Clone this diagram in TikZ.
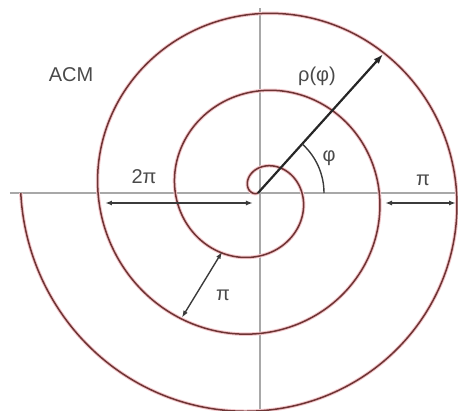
\documentclass[tikz,border=0pt]{standalone}
\usepackage{fontspec}
\setmainfont{Liberation Sans}
\usetikzlibrary{arrows.meta}
\definecolor{spiralred}{HTML}{6E3434}
\definecolor{halo}{HTML}{F4C8CC}
\definecolor{axisgray}{HTML}{A8A8A8}
\definecolor{inkgray}{HTML}{4A4A4A}

\begin{document}
\begin{tikzpicture}[x=1pt,y=1pt,
  axis/.style={axisgray, line width=1.2pt},
  spiral/.style={spiralred, line width=1.5pt},
  glow/.style={halo, line width=3.5pt},
  dim/.style={inkgray!80!black, line width=1.4pt, {Latex[length=7pt,width=5pt]}-{Latex[length=7pt,width=5pt]}},
  radius/.style={black!85, line width=2.2pt, -{Latex[length=10pt,width=7pt]}},
  lbl/.style={inkgray, inner sep=0pt, font=\fontsize{20}{20}\selectfont}]
\useasboundingbox (-258,-217) rectangle (200,193);
% axes
\coordinate (O) at (0,0);
\draw[axis] (-248,0) -- (200,0);
\draw[axis] (2,-217) -- (2,185);
% the spiral r = a(theta - theta0), clockwise
\draw[glow] plot[domain=155:1260, samples=400, smooth] ({-\x}:{0.2147*(\x-155)});
\draw[spiral] plot[domain=155:1260, samples=400, smooth] ({-\x}:{0.2147*(\x-155)});
% points on the spiral
\coordinate (rhoend) at (48:187);
\coordinate (in2pi) at (-5,-10);
\coordinate (out2pi) at (-153,-10);
\coordinate (inpiR) at (127,-10);
\coordinate (outpiR) at (198,-10);
\coordinate (inpiD) at (-121.4:69);
\coordinate (outpiD) at (-121.4:146);
% arrows
\draw[radius] (O) -- (rhoend);
\draw[dim] (out2pi) -- (in2pi);
\draw[dim] (inpiR) -- (outpiR);
\draw[dim] (inpiD) -- (outpiD);
\draw[inkgray!80!black, line width=1.4pt] (48:66) arc (48:0:66);
% labels
\node[lbl] (acm) at (-187,118) {ACM};
\node[lbl] (rho) at (59,117) {ρ(φ)};
\node[lbl] (phi) at (71,35) {φ};
\node[lbl] (twopi) at (-114,16) {2π};
\node[lbl] (piR) at (165,13) {π};
\node[lbl] (piD) at (-35,-102) {π};
\end{tikzpicture}
\end{document}
